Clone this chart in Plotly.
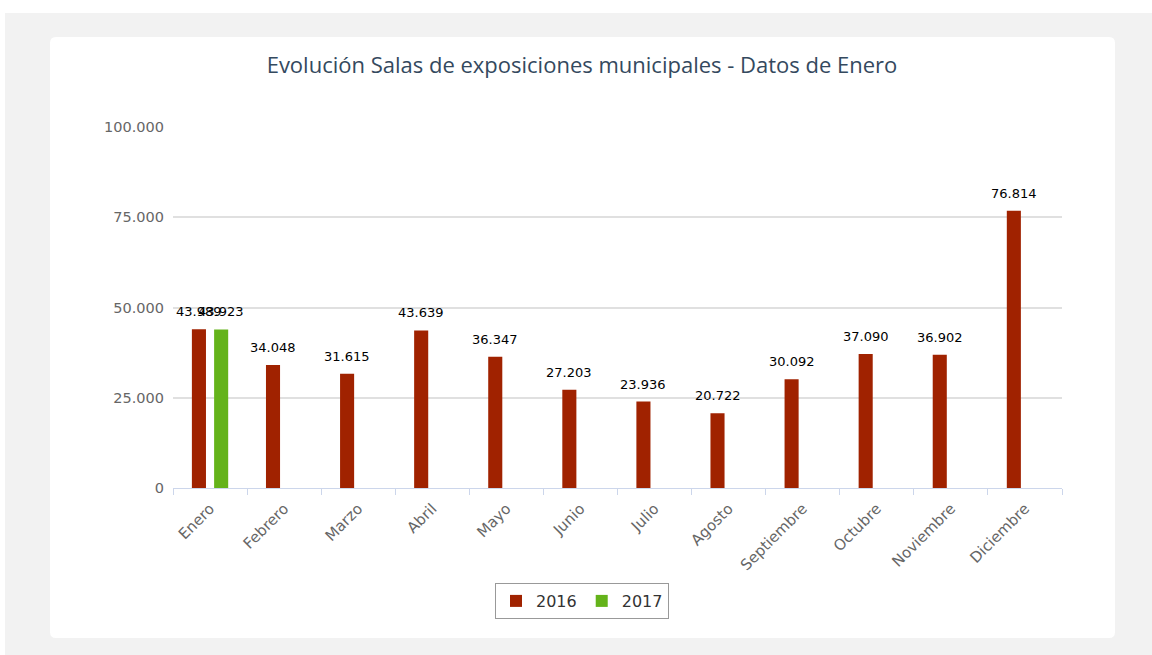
import plotly.graph_objects as go

months = ["Enero", "Febrero", "Marzo", "Abril", "Mayo", "Junio", "Julio",
          "Agosto", "Septiembre", "Octubre", "Noviembre", "Diciembre"]
values_2016 = [43989, 34048, 31615, 43639, 36347, 27203, 23936,
               20722, 30092, 37090, 36902, 76814]
months_2017 = ["Enero"]
values_2017 = [43923]
y_ticks = [0, 25000, 50000, 75000, 100000]

C2016 = "#a02200"
C2017 = "#64b31a"

W, H = 1152, 655
L, R, T, B = 173, 90, 127, 655 - 488
pw, ph = W - L - R, H - T - B
CAT_PX = pw / len(months)
BAR_W = 0.19
OFFSETS = {"2016": -0.245, "2017": 0.055}


def px(x):
    return (x - L) / pw


def py(y):
    return (H - B - y) / ph


def fmt(v):
    return f"{v:,}".replace(",", ".")


fig = go.Figure()
for name, xs, ys, col in [("2016", months, values_2016, C2016),
                          ("2017", months_2017, values_2017, C2017)]:
    off = OFFSETS[name]
    fig.add_trace(go.Bar(
        x=xs, y=ys, name=name, marker=dict(color=col, line=dict(width=0)),
        width=BAR_W, offset=off, hoverinfo="x+y",
    ))
    shift = (off + BAR_W / 2) * CAT_PX
    for xv, yv in zip(xs, ys):
        fig.add_annotation(x=xv, y=yv, text=fmt(yv), showarrow=False,
                           xshift=shift, yshift=8, yanchor="bottom",
                           font=dict(family="DejaVu Sans", size=13, color="#000000"))

# gray page background
fig.add_shape(type="rect", xref="paper", yref="paper",
              x0=px(5), x1=px(1160), y0=py(660), y1=py(13),
              fillcolor="#f2f2f2", line=dict(width=0), layer="below")

# white card with rounded corners
x0, x1, y0, y1 = 50, 1115, 37, 638
r = 6
rx, ry = r / pw, r / ph
X0, X1, Yt, Yb = px(x0), px(x1), py(y0), py(y1)
path = (f"M {X0+rx},{Yt} L {X1-rx},{Yt} Q {X1},{Yt} {X1},{Yt-ry} "
        f"L {X1},{Yb+ry} Q {X1},{Yb} {X1-rx},{Yb} "
        f"L {X0+rx},{Yb} Q {X0},{Yb} {X0},{Yb+ry} "
        f"L {X0},{Yt-ry} Q {X0},{Yt} {X0+rx},{Yt} Z")
fig.add_shape(type="path", xref="paper", yref="paper", path=path,
              fillcolor="white", line=dict(width=0), layer="below")

fig.update_layout(
    width=W, height=H,
    margin=dict(l=L, r=R, t=T, b=B),
    paper_bgcolor="white", plot_bgcolor="rgba(0,0,0,0)",
    separators=",.",
    barmode="overlay",
    title=dict(text="Evolución Salas de exposiciones municipales - Datos de Enero",
               x=582 / W, xanchor="center", y=1 - 65 / H, yanchor="middle",
               font=dict(family="Open Sans", size=22, color="#34495e")),
    showlegend=True,
    legend=dict(orientation="h", x=px(582), xanchor="center", y=py(601), yanchor="middle",
                bordercolor="#999999", borderwidth=1, bgcolor="white",
                font=dict(family="DejaVu Sans", size=16, color="#333333"),
                itemsizing="constant"),
    xaxis=dict(type="category", categoryorder="array", categoryarray=months,
               tickangle=-45, ticks="outside", tickson="boundaries", ticklen=6,
               tickcolor="#ccd6eb", showline=True, linecolor="#ccd6eb", linewidth=1,
               showgrid=False, ticklabelstandoff=5,
               tickfont=dict(family="DejaVu Sans", size=15, color="#666666")),
    yaxis=dict(range=[0, 100000], tickvals=y_ticks, tickformat=",.0f",
               showgrid=True, gridcolor="#e0e0e0", gridwidth=1.5, zeroline=False,
               ticks="", showline=False, ticklabelstandoff=8,
               tickfont=dict(family="DejaVu Sans", size=14.5, color="#666666")),
)

fig.write_html("out.html", config={"displayModeBar": False},
               post_script="document.body.style.margin='0';")
